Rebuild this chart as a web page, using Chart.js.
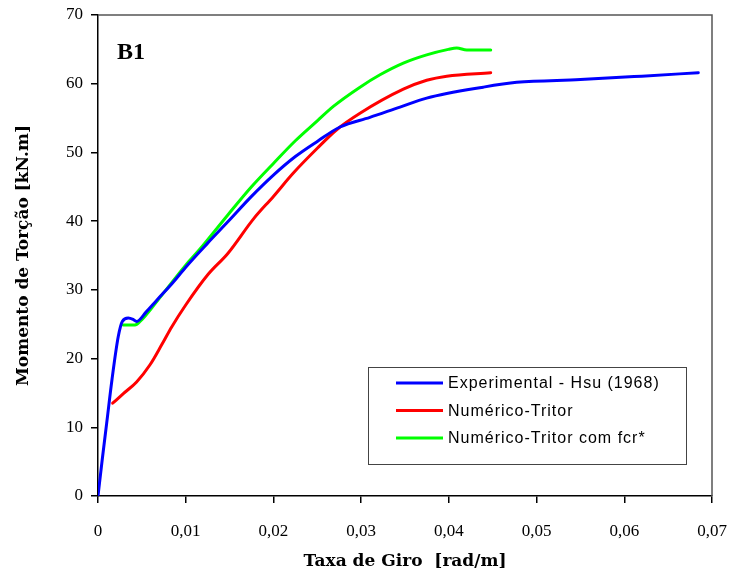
<!DOCTYPE html>
<html>
<head>
<meta charset="utf-8">
<script src="https://cdn.jsdelivr.net/npm/chart.js@4/dist/chart.umd.min.js"></script>
<style>
html,body{margin:0;padding:0;background:#fff;}
#wrap{width:734px;height:573px;}
</style>
</head>
<body>
<div id="wrap"><canvas id="c" width="734" height="573"></canvas></div>
<script>
// Experimental - Hsu (1968)
const expX = [0, 0.0005, 0.00099, 0.0016, 0.00231, 0.00277, 0.00345, 0.0040, 0.0044, 0.0055, 0.0067, 0.0085, 0.0100, 0.0125, 0.0148, 0.0175, 0.0200, 0.0225, 0.0250, 0.02759, 0.03100, 0.03443, 0.03747, 0.04393, 0.04774, 0.0550, 0.0620, 0.06844];
const expY = [0, 5.5, 10.6, 17.0, 23.2, 25.4, 25.9, 25.7, 25.4, 26.8, 28.5, 31.0, 33.3, 36.8, 39.9, 43.6, 46.7, 49.4, 51.6, 53.7, 55.1, 56.6, 57.9, 59.5, 60.2, 60.6, 61.1, 61.6];
// Numérico-Tritor
const numX = [0.00167, 0.00289, 0.0044, 0.00593, 0.00726, 0.0084, 0.0100, 0.01258, 0.0148, 0.01771, 0.0200, 0.02227, 0.0250, 0.02721, 0.02987, 0.03481, 0.03747, 0.03976, 0.04477];
const numY = [13.5, 14.9, 16.6, 19.1, 22.0, 24.6, 27.8, 32.3, 35.3, 40.3, 43.6, 47.0, 50.6, 53.3, 55.7, 59.2, 60.5, 61.1, 61.6];
// Numérico-Tritor com fcr*
const fcrX = [0.00289, 0.00422, 0.00479, 0.0067, 0.0100, 0.0116, 0.0148, 0.0175, 0.0200, 0.0225, 0.0250, 0.02683, 0.02987, 0.03215, 0.03481, 0.03747, 0.03994, 0.0409, 0.04204, 0.04477];
const fcrY = [24.9, 24.9, 25.4, 28.3, 33.6, 35.9, 40.9, 45.0, 48.4, 51.7, 54.6, 56.7, 59.5, 61.3, 63.0, 64.2, 65.0, 65.2, 64.9, 64.9];

const seriesLabels = ['Experimental - Hsu (1968)', 'Numérico-Tritor', 'Numérico-Tritor com fcr*'];
const seriesColors = ['#0000ff', '#ff0000', '#00ff00'];
const xTickLabels = ['0', '0,01', '0,02', '0,03', '0,04', '0,05', '0,06', '0,07'];
const yTickLabels = ['0', '10', '20', '30', '40', '50', '60', '70'];
const panelLabel = 'B1';
const xTitle = 'Taxa de Giro  [rad/m]';
const yTitle = 'Momento de Torção [kN.m]';

function pts(xs, ys) { return xs.map((x, i) => ({x: x, y: ys[i]})); }

const SERIF = '"Liberation Serif", "DejaVu Serif", serif';
const TSERIF = '"DejaVu Serif", "Liberation Serif", serif';
const SANS = '"Liberation Sans", Arial, sans-serif';

const extras = {
  id: 'extras',
  afterDraw(chart) {
    const ctx = chart.ctx;
    const a = chart.chartArea;
    ctx.save();
    // top and right frame
    ctx.strokeStyle = '#555';
    ctx.lineWidth = 1.5;
    ctx.beginPath();
    ctx.moveTo(a.left, a.top);
    ctx.lineTo(a.right, a.top);
    ctx.lineTo(a.right, a.bottom);
    ctx.stroke();
    // panel label
    ctx.fillStyle = '#000';
    ctx.font = 'bold 24px ' + SERIF;
    ctx.textAlign = 'left';
    ctx.textBaseline = 'alphabetic';
    ctx.fillText(panelLabel, a.left + 19, a.top + 44);
    // legend box
    const bx = 368, by = 367, bw = 318, bh = 97;
    ctx.fillStyle = '#fff';
    ctx.fillRect(bx, by, bw, bh);
    ctx.strokeStyle = '#444';
    ctx.lineWidth = 1;
    ctx.strokeRect(bx + 0.5, by + 0.5, bw, bh);
    ctx.font = '16px ' + SANS;
    ctx.textBaseline = 'middle';
    try { ctx.letterSpacing = '1px'; } catch (e) {}
    chart.data.datasets.forEach((ds, i) => {
      const yy = by + 16 + i * 27.5;
      ctx.strokeStyle = ds.borderColor;
      ctx.lineWidth = 3;
      ctx.beginPath();
      ctx.moveTo(bx + 28, yy);
      ctx.lineTo(bx + 75, yy);
      ctx.stroke();
      ctx.fillStyle = '#000';
      ctx.fillText(ds.label, bx + 80, yy + 1);
    });
    ctx.restore();
  }
};

new Chart(document.getElementById('c'), {
  type: 'scatter',
  data: {
    datasets: [
      {label: seriesLabels[0], data: pts(expX, expY), borderColor: seriesColors[0]},
      {label: seriesLabels[1], data: pts(numX, numY), borderColor: seriesColors[1]},
      {label: seriesLabels[2], data: pts(fcrX, fcrY), borderColor: seriesColors[2]}
    ].map(d => Object.assign(d, {showLine: true, borderWidth: 3, pointRadius: 0, cubicInterpolationMode: 'monotone', fill: false, backgroundColor: d.borderColor, borderCapStyle: 'round', borderJoinStyle: 'round'}))
  },
  options: {
    responsive: false,
    animation: false,
    events: [],
    layout: {padding: {left: 0, right: 22, top: 15, bottom: 0}},
    plugins: {legend: {display: false}, tooltip: {enabled: false}},
    scales: {
      x: {
        type: 'linear', min: 0, max: 0.07,
        afterBuildTicks(scale) { scale.ticks = xTickLabels.map((_, i) => ({value: i * 0.01})); },
        afterFit(scale) { scale.height = 77; scale.paddingLeft = 0; scale.paddingRight = 0; },
        grid: {drawOnChartArea: false, drawTicks: true, tickLength: 7, color: '#000', lineWidth: 1.5},
        border: {display: true, color: '#000', width: 1.5},
        ticks: {color: '#000', font: {family: SERIF, size: 17}, padding: 18, maxRotation: 0,
          callback: (v, i) => xTickLabels[i]},
        title: {display: true, text: xTitle, color: '#000', font: {family: TSERIF, size: 17, weight: 'bold'}, padding: {top: 0, bottom: 1}}
      },
      y: {
        type: 'linear', min: 0, max: 70,
        afterBuildTicks(scale) { scale.ticks = yTickLabels.map((_, i) => ({value: i * 10})); },
        afterFit(scale) { scale.width = 98; scale.paddingTop = 0; scale.paddingBottom = 0; },
        grid: {drawOnChartArea: false, drawTicks: true, tickLength: 7, color: '#000', lineWidth: 1.5},
        border: {display: true, color: '#000', width: 1.5},
        ticks: {color: '#000', font: {family: SERIF, size: 17}, padding: 8,
          callback: (v, i) => yTickLabels[i]},
        title: {display: true, text: yTitle, color: '#000', font: {family: TSERIF, size: 17, weight: 'bold'}, padding: {top: 13, bottom: 0}}
      }
    }
  },
  plugins: [extras]
});
</script>
</body>
</html>
